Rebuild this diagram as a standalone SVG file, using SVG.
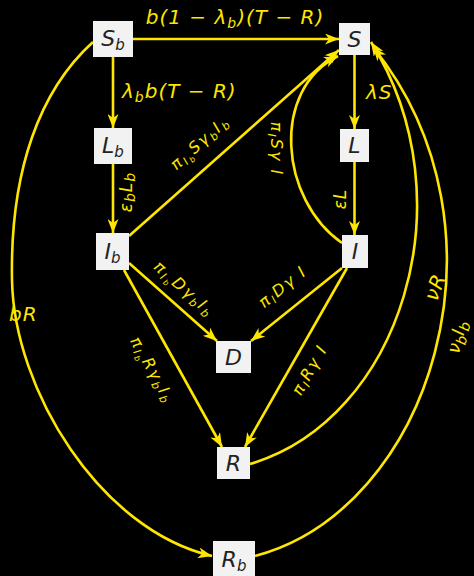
<svg xmlns="http://www.w3.org/2000/svg" width="474" height="576" viewBox="0 0 474 576">
<style>
.edge{fill:none;stroke:#ffe600;stroke-width:2.6;marker-end:url(#ah)}
.box{fill:#f2f2f2}
.nt{font-family:"DejaVu Sans",sans-serif;font-style:italic;font-size:22px;fill:#222;text-anchor:middle}
.ns{font-size:15px}
.lb{font-family:"DejaVu Sans",sans-serif;font-style:italic;fill:#ffe600}
.big{font-size:20px;letter-spacing:1px}
.sm{font-size:16px;letter-spacing:2px;text-anchor:middle}
.s1{font-size:11px}
.s2{font-size:8px}
.s3{font-size:14px}
</style>
<defs>
<marker id="ah" viewBox="0 0 14 11" refX="14" refY="5.5" markerWidth="14" markerHeight="11" markerUnits="userSpaceOnUse" orient="auto">
<path d="M0,0 L14,5.5 L0,11 L4,5.5 z" fill="#ffe600"/>
</marker>
</defs>
<rect width="474" height="576" fill="#000"/>
<g id="connectors">
<path class="edge" d="M133,39 H339"/>
<path class="edge" d="M113,57 V128"/>
<path class="edge" d="M113,164 V233"/>
<path class="edge" d="M354.5,55 V129"/>
<path class="edge" d="M354.5,162 V235"/>
<path class="edge" d="M129,236 L339,50"/>
<path class="edge" d="M342,243 C280,200 270,90 338,56"/>
<path class="edge" d="M129,263 L217,341"/>
<path class="edge" d="M342,268 L251,341"/>
<path class="edge" d="M124,270 L222,447"/>
<path class="edge" d="M347,268 L245,447"/>
<path class="edge" d="M93,42 C40,90 10,170 12,280 C14,390 100,530 212,556"/>
<path class="edge" d="M250,464 C400,420 470,200 371,42"/>
<path class="edge" d="M255,556 C430,510 520,230 373,47"/>
</g>
<g id="labels">
<text class="lb big" x="235" y="24" text-anchor="middle">b(1 − λ<tspan class="s3" dy="4">b</tspan><tspan dy="-4">)(T − R)</tspan></text>
<text class="lb big" x="122" y="98">λ<tspan class="s3" dy="4">b</tspan><tspan dy="-4">b(T − R)</tspan></text>
<text class="lb big" x="366" y="99">λS</text>
<text class="lb big" x="9" y="321">bR</text>
<text class="lb big" transform="translate(340,199) rotate(-90)" y="6" text-anchor="middle" style="font-size:17px">εL</text>
<text class="lb big" transform="translate(126,192) rotate(-90)" y="6" text-anchor="middle" style="font-size:17px">ε<tspan class="s3" dy="3">b</tspan><tspan dy="-3">L</tspan><tspan class="s3" dy="3">b</tspan></text>
<text class="lb sm" transform="translate(275.5,149) rotate(90)" y="5">π<tspan class="s1" dy="3">I</tspan><tspan dy="-3">Sγ I</tspan></text>
<text class="lb sm" transform="translate(200,143) rotate(-41.5)" y="5">π<tspan class="s1" dy="3">I</tspan><tspan class="s2" dy="2">b</tspan><tspan dy="-5">Sγ</tspan><tspan class="s1" dy="3">b</tspan><tspan dy="-3">I</tspan><tspan class="s1" dy="3">b</tspan></text>
<text class="lb sm" transform="translate(184,289) rotate(41.5)" y="5">π<tspan class="s1" dy="3">I</tspan><tspan class="s2" dy="2">b</tspan><tspan dy="-5">Dγ</tspan><tspan class="s1" dy="3">b</tspan><tspan dy="-3">I</tspan><tspan class="s1" dy="3">b</tspan></text>
<text class="lb sm" transform="translate(283,287) rotate(-38.7)" y="5">π<tspan class="s1" dy="3">I</tspan><tspan dy="-3">Dγ I</tspan></text>
<text class="lb sm" transform="translate(152,370) rotate(61)" y="5">π<tspan class="s1" dy="3">I</tspan><tspan class="s2" dy="2">b</tspan><tspan dy="-5">Rγ</tspan><tspan class="s1" dy="3">b</tspan><tspan dy="-3">I</tspan><tspan class="s1" dy="3">b</tspan></text>
<text class="lb sm" transform="translate(310,370) rotate(-60.3)" y="5">π<tspan class="s1" dy="3">I</tspan><tspan dy="-3">Rγ I</tspan></text>
<text class="lb big" transform="translate(435,287) rotate(-69)" y="7" text-anchor="middle">νR</text>
<text class="lb" transform="translate(457,337) rotate(-76)" y="6" text-anchor="middle" style="font-size:18px">ν<tspan class="s3" dy="4">b</tspan><tspan dy="-4">I</tspan><tspan class="s3" dy="4">b</tspan></text>
</g>
<g id="Sb"><rect class="box" x="93" y="21" width="40" height="36"/><text class="nt" x="113" y="46">S<tspan class="ns" dy="4">b</tspan></text></g>
<g id="S"><rect class="box" x="339" y="23" width="31" height="32"/><text class="nt" x="354.5" y="47">S</text></g>
<g id="Lb"><rect class="box" x="94" y="128" width="38" height="36"/><text class="nt" x="113" y="153">L<tspan class="ns" dy="4">b</tspan></text></g>
<g id="L"><rect class="box" x="340" y="129" width="29" height="33"/><text class="nt" x="354.5" y="153">L</text></g>
<g id="Ib"><rect class="box" x="96" y="233" width="33" height="37"/><text class="nt" x="112.5" y="259">I<tspan class="ns" dy="4">b</tspan></text></g>
<g id="I"><rect class="box" x="342" y="235" width="26" height="33"/><text class="nt" x="355" y="259">I</text></g>
<g id="D"><rect class="box" x="216" y="341" width="35" height="32"/><text class="nt" x="233.5" y="365">D</text></g>
<g id="R"><rect class="box" x="217" y="447" width="33" height="32"/><text class="nt" x="233.5" y="471">R</text></g>
<g id="Rb"><rect class="box" x="213" y="541" width="42" height="36"/><text class="nt" x="234" y="567">R<tspan class="ns" dy="4">b</tspan></text></g>
</svg>
